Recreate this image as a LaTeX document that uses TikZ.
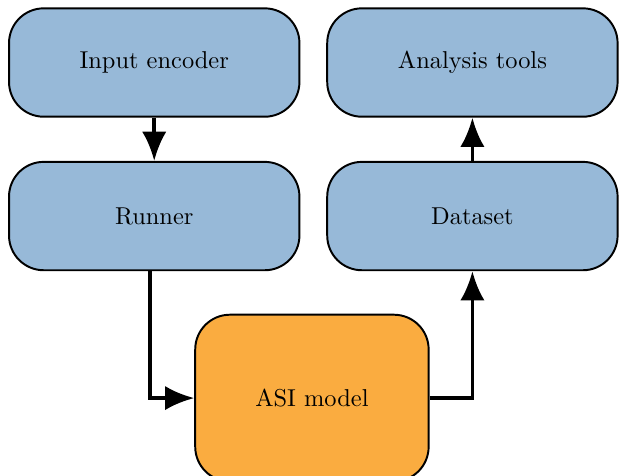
\documentclass[tikz,border=0pt]{standalone}
\usetikzlibrary{arrows.meta}
\definecolor{boxblue}{RGB}{151,185,216}
\definecolor{boxorange}{RGB}{250,172,64}
\begin{document}
\begin{tikzpicture}
		% pipeline: encoder and runner feed the ASI model, its dataset goes to the analysis tools
		[block/.style={rectangle,rounded corners=0.5cm,draw,thick,fill=boxblue,minimum width=4.18cm,minimum height=1.56cm},
		 flow/.style={line width=1.5pt},>={Latex[length=4.2mm,width=3.5mm]}]
		\useasboundingbox (0,0) rectangle (8.91,-6.84);

		\node[block] (enc) at (2.22,-0.9) {Input encoder};
		\node[block] (tools) at (6.8,-0.9) {Analysis tools};
		\node[block] (runner) at (2.22,-3.11) {Runner};
		\node[block] (data) at (6.8,-3.11) {Dataset};
		\node[block,fill=boxorange,minimum width=3.36cm,minimum height=2.4cm] (asi) at (4.49,-5.73) {ASI model};

		\draw[flow,->] (enc) -- (runner);
		\draw[flow,->] (data) -- (tools);
		\draw[flow,->] ([xshift=-0.06cm]runner.south) |- (asi.west);
		\draw[flow,->] (asi.east) -| (data.south);
	\end{tikzpicture}
\end{document}
